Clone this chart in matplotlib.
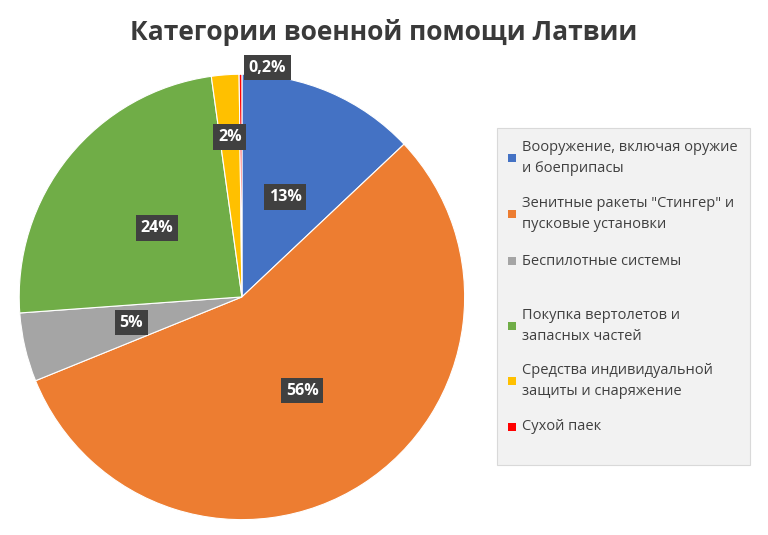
import matplotlib
matplotlib.use("Agg")
import matplotlib.pyplot as plt
from matplotlib.patches import Rectangle
import numpy as np

categories = ["Вооружение, включая оружие\nи боеприпасы",
              "Зенитные ракеты \"Стингер\" и\nпусковые установки",
              "Беспилотные системы",
              "Покупка вертолетов и\nзапасных частей",
              "Средства индивидуальной\nзащиты и снаряжение",
              "Сухой паек"]
values = [13, 56, 5, 24, 2, 0.2]
pct_labels = ["13%", "56%", "5%", "24%", "2%", "0,2%"]
colors = ["#4472C4", "#ED7D31", "#A5A5A5", "#70AD47", "#FFC000", "#FF0000"]
label_radius = [0.49, 0.5, 0.51, 0.49, 0.72, 1.03]

fig = plt.figure(figsize=(7.68, 5.35), dpi=100)
fig.patch.set_facecolor("white")
fig.text(0.5, 0.94, "Категории военной помощи Латвии", ha="center", va="center",
         fontsize=19, fontweight="bold", color="#3A3A3A", family="Open Sans")

ax = fig.add_axes([0.315 - 0.29, 0.445 - 0.417, 0.58, 0.834])
wedges, _ = ax.pie(values, colors=colors, startangle=90, counterclock=False,
                   wedgeprops=dict(edgecolor="white", linewidth=0.8))
ax.set_aspect("equal")
ax.set_xlim(-1, 1); ax.set_ylim(-1, 1)

total = sum(values)
cum = 0
for v, lab, r in zip(values, pct_labels, label_radius):
    mid = 90 - (cum + v / 2) / total * 360
    cum += v
    x, y = r * np.cos(np.radians(mid)), r * np.sin(np.radians(mid))
    if lab == "0,2%":
        x += 0.12
    ax.text(x, y, lab, ha="center", va="center", fontsize=11.5, fontweight="bold",
            color="white", family="Open Sans",
            bbox=dict(boxstyle="square,pad=0.3", facecolor="#404040", edgecolor="none"))

fig.patches.append(Rectangle((497 / 768, 1 - 465 / 535), 253 / 768, 337 / 535,
                             transform=fig.transFigure, facecolor="#F2F2F2",
                             edgecolor="#D9D9D9", linewidth=0.8))
ys = [158, 214, 261, 326, 381, 427]
for lab, c, y in zip(categories, colors, ys):
    yf = 1 - y / 535
    fig.patches.append(Rectangle((508 / 768, yf - 4 / 535), 8 / 768, 8 / 535,
                                 transform=fig.transFigure, facecolor=c, edgecolor="none"))
    fig.text(522 / 768, yf, lab, ha="left", va="center", fontsize=10.5,
             color="#404040", family="Open Sans", linespacing=1.5)

fig.savefig("out.png", dpi=100)
